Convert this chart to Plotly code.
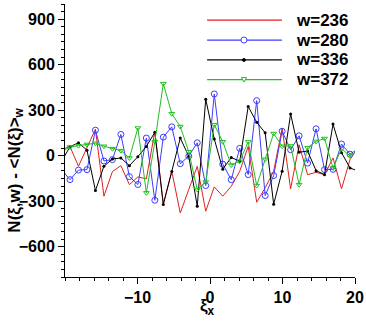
import plotly.graph_objects as go

# lattice positions along xi_x (first and last lie just outside the axis range)
xi = [-20.48, -19.31, -18.14, -16.97, -15.80, -14.63, -13.46, -12.29, -11.12,
      -9.95, -8.78, -7.61, -6.44, -5.27, -4.10, -2.93, -1.76, -0.59,
      0.59, 1.76, 2.93, 4.10, 5.27, 6.44, 7.61, 8.78, 9.95, 11.12,
      12.29, 13.46, 14.63, 15.80, 16.97, 18.14, 19.31, 20.48]

w236 = [40, 60, -70, 53, 175, -267, -105, -66, -191, -140, -153, 160, -319, -103,
        -378, -223, -70, -366, -206, -267, -202, -103, 61, -307, -212, -103,
        182, -219, 72, -125, -110, -125, -15, -219, -26, 60]
w280 = [-92, -158, -95, -92, 168, -35, -26, 140, -138, -190, 116, -294, 122, 190,
        -53, -3, 85, -197, 407, -56, -158, 48, -125, 363, -263, -131, 161, 39,
        131, -49, 177, -92, -90, 77, 10, 46]
w336 = [-38, 59, 85, 36, -230, -70, -22, -15, -66, -7, 61, 154, -322, -105, 116,
        -4, -333, 372, 110, -89, -12, -37, 324, 220, 151, -320, -102, 275, 23,
        30, -99, -125, 208, 20, -81, -103]
w372 = [26, 57, 66, 74, 82, 62, 46, 33, -15, 182, -245, 92, 475, 277, 192, 26,
        -223, -174, 204, 92, -62, -37, 91, -197, -24, 146, 62, 64, -191, 53, 94,
        113, -81, 46, -2, 37]

names = ["w=236", "w=280", "w=336", "w=372"]
x_ticks = [-10, 0, 10, 20]
y_ticks = [-600, -300, 0, 300, 600, 900]

font = "Liberation Sans, Arial, Helvetica, sans-serif"
RED, BLUE, BLACK, GREEN = "#e02020", "#3c3cff", "#000000", "#20c020"

fig = go.Figure()
fig.add_trace(go.Scatter(x=xi, y=w236, mode="lines", name=names[0],
                         line=dict(color=RED, width=1)))
fig.add_trace(go.Scatter(x=xi, y=w280, mode="lines+markers", name=names[1],
                         line=dict(color=BLUE, width=1),
                         marker=dict(symbol="circle-open", size=6, color=BLUE)))
fig.add_trace(go.Scatter(x=xi, y=w336, mode="lines+markers", name=names[2],
                         line=dict(color=BLACK, width=1),
                         marker=dict(symbol="circle", size=3, color=BLACK)))
fig.add_trace(go.Scatter(x=xi, y=w372, mode="lines+markers", name=names[3],
                         line=dict(color=GREEN, width=1),
                         marker=dict(symbol="triangle-down-open", size=5, color=GREEN)))

axis_common = dict(
    showline=True, linecolor="black", linewidth=1, mirror=False,
    showgrid=False, zeroline=False,
    ticks="outside", ticklen=6, tickwidth=1, tickcolor="black",
    tickfont=dict(family=font, size=16, color="black", weight="bold"),
    automargin=False,
)

fig.update_xaxes(range=[-20, 20], tickvals=x_ticks,
                 minor=dict(dtick=2, ticks="outside", ticklen=3, tickcolor="black"),
                 **axis_common)
fig.update_yaxes(range=[-800, 1000], tickvals=y_ticks,
                 minor=dict(dtick=50, ticks="outside", ticklen=3, tickcolor="black"),
                 **axis_common)

fig.add_annotation(text="N(\u03be,w) - &lt;N(\u03be)&gt;<sub>w</sub>", textangle=-90,
                   xref="paper", yref="paper", x=-0.172, y=0.39,
                   xanchor="center", yanchor="middle", showarrow=False,
                   font=dict(family=font, size=17, color="black", weight="bold"))
fig.add_annotation(text="\u03be<sub>x</sub>", xref="paper", yref="paper",
                   x=0.493, y=-0.11, xanchor="center", yanchor="middle",
                   showarrow=False,
                   font=dict(family=font, size=17, color="black", weight="bold"))

# legend drawn as long line keys, like the original
rows = [0.941, 0.868, 0.795, 0.723]
colors = [RED, BLUE, BLACK, GREEN]
for name, color, ry in zip(names, colors, rows):
    fig.add_shape(type="line", xref="paper", yref="paper",
                  x0=0.49, x1=0.748, y0=ry, y1=ry,
                  line=dict(color=color, width=1.2))
    fig.add_annotation(text=name, xref="paper", yref="paper", x=0.79, y=ry,
                       xanchor="left", yanchor="middle", showarrow=False,
                       font=dict(family=font, size=17, color="black", weight="bold"))
mx = 0.617
fig.add_shape(type="circle", xref="paper", yref="paper", xsizemode="pixel",
              ysizemode="pixel", xanchor=mx, yanchor=rows[1],
              x0=-3, x1=3, y0=-3, y1=3, line=dict(color=BLUE, width=1),
              fillcolor="white")
fig.add_shape(type="circle", xref="paper", yref="paper", xsizemode="pixel",
              ysizemode="pixel", xanchor=mx, yanchor=rows[2],
              x0=-1.5, x1=1.5, y0=-1.5, y1=1.5, line=dict(color=BLACK, width=1),
              fillcolor=BLACK)
fig.add_shape(type="path", xref="paper", yref="paper", xsizemode="pixel",
              ysizemode="pixel", xanchor=mx, yanchor=rows[3],
              path="M-2.5,2 L2.5,2 L0,-2.5 Z", line=dict(color=GREEN, width=1),
              fillcolor="white")

fig.update_layout(
    width=366, height=321,
    margin=dict(l=65, r=11, t=4, b=44, autoexpand=False),
    paper_bgcolor="white", plot_bgcolor="white",
    showlegend=False,
)

fig.write_html("out.html", config={"displayModeBar": False},
               post_script="document.body.style.margin='0';")
